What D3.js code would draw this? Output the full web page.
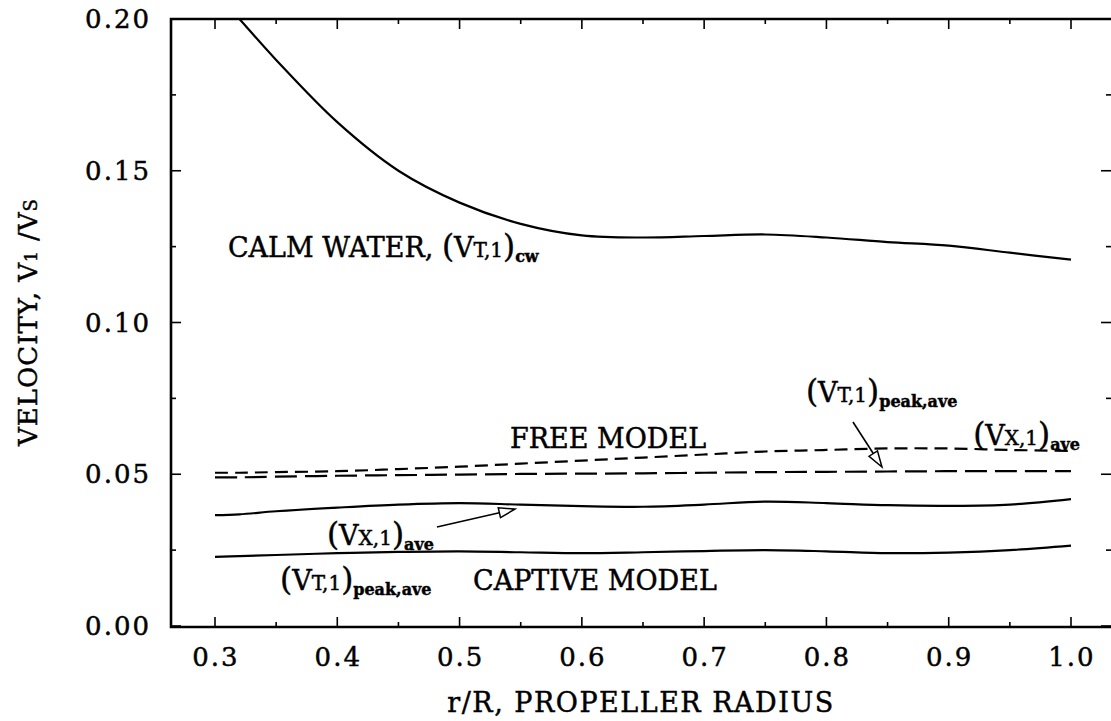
<!DOCTYPE html>
<meta charset="utf-8">
<style>
body { margin: 0; background: #fff; }
svg { display: block; }
text { font-family: "DejaVu Serif", serif; fill: #000; stroke: #000; stroke-width: 0.45px; }
.tick-label { font-size: 26px; letter-spacing: 2px; }
.note { font-size: 27px; }
.curve { fill: none; stroke: #000; stroke-width: 2.2; }
.spine { stroke: #000; stroke-width: 2.6; fill: none; }
.tk { stroke: #000; stroke-width: 1.6; }
</style>
<svg width="1111" height="721"></svg>
<script src="https://d3js.org/d3.v7.min.js"></script>
<script>

// r/R stations
var radius = [0.30, 0.32, 0.35, 0.40, 0.45, 0.50, 0.55, 0.60, 0.65, 0.70, 0.75, 0.80, 0.85, 0.90, 0.95, 1.00];

// calm water (VT,1)cw
var calmWater = [0.209, 0.200, 0.1865, 0.166, 0.150, 0.1395, 0.1325, 0.1287, 0.128, 0.1285, 0.129, 0.128, 0.1265, 0.1253, 0.123, 0.1207];

// free model
var freeVx = [0.0505, 0.0505, 0.0507, 0.051, 0.0517, 0.0525, 0.0535, 0.0545, 0.0555, 0.0565, 0.0575, 0.058, 0.0585, 0.0585, 0.058, 0.0577];
var freeVt = [0.049, 0.049, 0.0492, 0.0495, 0.0497, 0.0499, 0.0501, 0.0502, 0.0503, 0.0505, 0.0507, 0.0508, 0.0509, 0.051, 0.051, 0.051];

// captive model
var captVx = [0.0365, 0.0368, 0.0378, 0.039, 0.040, 0.0405, 0.040, 0.0395, 0.0393, 0.040, 0.041, 0.0405, 0.0398, 0.0396, 0.040, 0.0418];
var captVt = [0.0228, 0.023, 0.0234, 0.024, 0.0244, 0.0246, 0.0243, 0.024, 0.0243, 0.0247, 0.025, 0.0246, 0.024, 0.0242, 0.025, 0.0265];

var xTicks = [0.3, 0.4, 0.5, 0.6, 0.7, 0.8, 0.9, 1.0];
var xMinor = [0.35, 0.45, 0.55, 0.65, 0.75, 0.85, 0.95];
var yTicks = [0.00, 0.05, 0.10, 0.15, 0.20];
var yMinor = [0.025, 0.075, 0.125, 0.175];

var svg = d3.select("svg");

var x = d3.scaleLinear().domain([0.3, 1.0]).range([215, 1071]);
var y = d3.scaleLinear().domain([0, 0.2]).range([626, 19]);

var pLeft = 171, pRight = 1112, pTop = 19, pBottom = 627;

svg.append("defs").append("clipPath").attr("id", "plot")
  .append("rect").attr("x", pLeft).attr("y", pTop).attr("width", pRight - pLeft).attr("height", pBottom - pTop);

// spines (right edge is off the page in the original)
svg.append("path").attr("class", "spine")
    .attr("d", "M" + pRight + "," + pTop + "H" + pLeft + "V" + pBottom + "H" + pRight);

// ticks, all pointing inwards
function tickLines(vals, len, horiz) {
  vals.forEach(function(v) {
    if (horiz) {
      svg.append("line").attr("class", "tk").attr("x1", x(v)).attr("x2", x(v)).attr("y1", pBottom).attr("y2", pBottom - len);
      svg.append("line").attr("class", "tk").attr("x1", x(v)).attr("x2", x(v)).attr("y1", pTop).attr("y2", pTop + len);
    } else {
      svg.append("line").attr("class", "tk").attr("y1", y(v)).attr("y2", y(v)).attr("x1", pLeft).attr("x2", pLeft + len);
      svg.append("line").attr("class", "tk").attr("y1", y(v)).attr("y2", y(v)).attr("x1", 1111).attr("x2", 1111 - len);
    }
  });
}
tickLines(xTicks, 10, true);
tickLines(xMinor, 5, true);
tickLines(yTicks, 10, false);
tickLines(yMinor, 5, false);

svg.selectAll(".xl").data(xTicks).enter().append("text")
    .attr("class", "tick-label")
    .attr("x", function(d) { return x(d) + 1; })
    .attr("y", 666)
    .attr("text-anchor", "middle")
    .text(function(d) { return d.toFixed(1); });

svg.selectAll(".yl").data(yTicks).enter().append("text")
    .attr("class", "tick-label")
    .attr("x", 151)
    .attr("y", function(d) { return y(d) + 9; })
    .attr("text-anchor", "end")
    .text(function(d) { return d.toFixed(2); });

// axis titles
svg.append("text")
    .attr("x", 641).attr("y", 712)
    .attr("text-anchor", "middle")
    .style("font-size", "27px").style("letter-spacing", "1.5px")
    .text("r/R, PROPELLER RADIUS");

var yt = svg.append("text")
    .attr("transform", "translate(37,322) rotate(-90)")
    .attr("text-anchor", "middle")
    .style("font-size", "26px").style("letter-spacing", "1px");
yt.append("tspan").text("VELOCITY, V");
yt.append("tspan").style("font-size", "17px").text("1");
yt.append("tspan").text(" /V");
yt.append("tspan").style("font-size", "18px").text("S");

// curves
var line = d3.line()
    .x(function(d) { return x(d[0]); })
    .y(function(d) { return y(d[1]); })
    .curve(d3.curveCatmullRom.alpha(0.5));

function series(vals) { return radius.map(function(r, i) { return [r, vals[i]]; }); }

var g = svg.append("g").attr("clip-path", "url(#plot)");
g.append("path").attr("class", "curve").attr("d", line(series(calmWater)));
g.append("path").attr("class", "curve").attr("d", line(series(freeVx))).attr("stroke-dasharray", "13,7");
g.append("path").attr("class", "curve").attr("d", line(series(freeVt))).attr("stroke-dasharray", "22,8");
g.append("path").attr("class", "curve").attr("d", line(series(captVx)));
g.append("path").attr("class", "curve").attr("d", line(series(captVt)));

// labels placed in data units
function note(r, v, anchor, pieces) {
  var t = svg.append("text").attr("class", "note")
      .attr("x", x(r)).attr("y", y(v)).attr("text-anchor", anchor);
  pieces.forEach(function(p) {
    var s = t.append("tspan").text(p[0]);
    if (p[1] === "paren") s.style("font-size", "31px");
    if (p[1] === "sc") s.style("font-size", "20px");
    if (p[1] === "sub") s.style("font-size", "16px").style("font-weight", "bold").attr("dy", 5);
  });
}
function velo(letter, sub) {
  return [["(", "paren"], ["V", ""], [letter + ",1", "sc"], [")", "paren"], [sub, "sub"]];
}

note(0.3106, 0.1216, "start", [["CALM WATER, ", ""]].concat(velo("T", "cw")));
note(0.6214, 0.0586, "middle", [["FREE MODEL", ""]]);
note(0.7833, 0.0738, "start", velo("T", "peak,ave"));
note(0.920, 0.0596, "start", velo("X", "ave"));
note(0.3916, 0.0267, "start", velo("X", "ave"));
note(0.3532, 0.0119, "start", velo("T", "peak,ave"));
note(0.511, 0.0119, "start", [["CAPTIVE MODEL", ""]]);

// arrows with open heads: tail -> tip in data units
var arrows = [
  [[0.8217, 0.0672], [0.8454, 0.0524]],
  [[0.4815, 0.0326], [0.5453, 0.0385]]
];
arrows.forEach(function(a) {
  var x0 = x(a[0][0]), y0 = y(a[0][1]), x1 = x(a[1][0]), y1 = y(a[1][1]);
  var ang = Math.atan2(y1 - y0, x1 - x0), L = 16, W = 5;
  var bx = x1 - L * Math.cos(ang), by = y1 - L * Math.sin(ang);
  var px = -Math.sin(ang) * W, py = Math.cos(ang) * W;
  svg.append("line").attr("class", "tk").attr("x1", x0).attr("y1", y0).attr("x2", bx).attr("y2", by);
  svg.append("path")
      .attr("d", "M" + x1 + "," + y1 + "L" + (bx + px) + "," + (by + py) + "L" + (bx - px) + "," + (by - py) + "Z")
      .attr("fill", "#fff").attr("stroke", "#000").attr("stroke-width", 1.5);
});

</script>
